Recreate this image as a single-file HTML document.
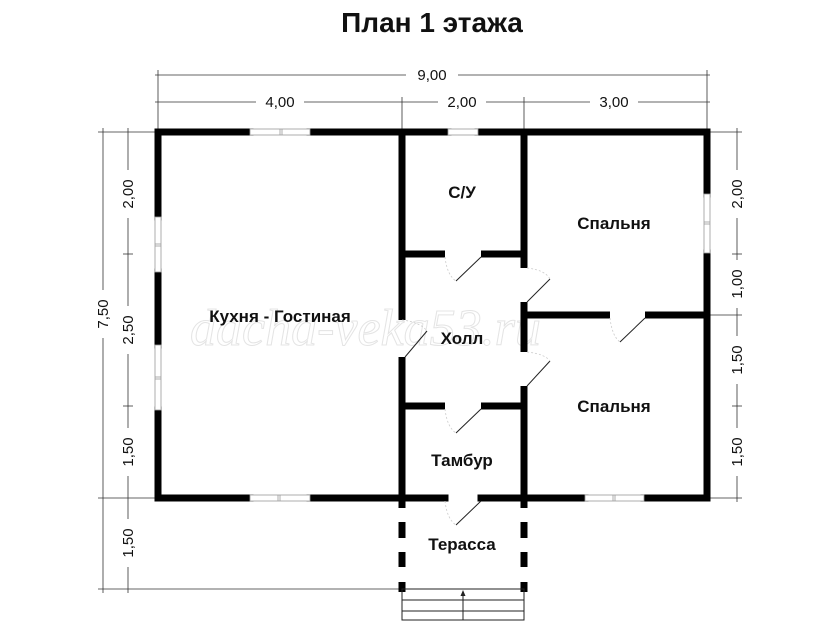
<!DOCTYPE html>
<html><head><meta charset="utf-8"><style>
html,body{margin:0;padding:0;background:#fff;}
svg{display:block;}
text{font-family:"Liberation Sans",sans-serif;fill:#111;}
.lbl{font-size:17px;font-weight:bold;}
.dim{font-size:15px;}
</style></head><body>
<svg width="840" height="630" viewBox="0 0 840 630" xmlns="http://www.w3.org/2000/svg">
<rect width="840" height="630" fill="#fff"/>
<text x="432" y="32" text-anchor="middle" style="font-size:28px;font-weight:bold">План 1 этажа</text>

<!-- dimension lines -->
<g stroke="#333" stroke-width="0.8" fill="none">
<line x1="155" y1="75" x2="710" y2="75"/>
<line x1="155" y1="102" x2="710" y2="102"/>
<line x1="158" y1="70" x2="158" y2="132"/>
<line x1="707" y1="70" x2="707" y2="132"/>
<line x1="402" y1="97" x2="402" y2="132"/>
<line x1="524" y1="97" x2="524" y2="132"/>
<line x1="103" y1="128" x2="103" y2="593"/>
<line x1="128" y1="128" x2="128" y2="593"/>
<line x1="98" y1="132" x2="158" y2="132"/>
<line x1="98" y1="589" x2="402" y2="589"/>
<line x1="98" y1="498" x2="158" y2="498"/>
<line x1="123" y1="254" x2="133" y2="254"/>
<line x1="123" y1="406" x2="133" y2="406"/>
<line x1="737" y1="128" x2="737" y2="502"/>
<line x1="707" y1="132" x2="742" y2="132"/>
<line x1="707" y1="498" x2="742" y2="498"/>
<line x1="732" y1="254" x2="742" y2="254"/>
<line x1="707" y1="315" x2="742" y2="315"/>
<line x1="732" y1="406" x2="742" y2="406"/>
</g>
<g class="dim">
<rect x="406" y="66" width="52" height="16" fill="#fff"/>
<text x="432" y="80" text-anchor="middle" class="dim">9,00</text>
<rect x="256" y="93" width="48" height="16" fill="#fff"/>
<text x="280" y="107" text-anchor="middle" class="dim">4,00</text>
<rect x="438" y="93" width="48" height="16" fill="#fff"/>
<text x="462" y="107" text-anchor="middle" class="dim">2,00</text>
<rect x="590" y="93" width="48" height="16" fill="#fff"/>
<text x="614" y="107" text-anchor="middle" class="dim">3,00</text>
</g>
<g fill="#fff">
<rect x="95" y="290" width="16" height="48"/>
<rect x="120" y="170" width="16" height="48"/>
<rect x="120" y="306" width="16" height="48"/>
<rect x="120" y="428" width="16" height="48"/>
<rect x="120" y="519" width="16" height="48"/>
<rect x="729" y="170" width="16" height="48"/>
<rect x="729" y="260" width="16" height="48"/>
<rect x="729" y="336" width="16" height="48"/>
<rect x="729" y="428" width="16" height="48"/>
</g>
<g class="dim" text-anchor="middle">
<text transform="translate(108 314) rotate(-90)">7,50</text>
<text transform="translate(133 194) rotate(-90)">2,00</text>
<text transform="translate(133 330) rotate(-90)">2,50</text>
<text transform="translate(133 452) rotate(-90)">1,50</text>
<text transform="translate(133 543) rotate(-90)">1,50</text>
<text transform="translate(742 194) rotate(-90)">2,00</text>
<text transform="translate(742 284) rotate(-90)">1,00</text>
<text transform="translate(742 360) rotate(-90)">1,50</text>
<text transform="translate(742 452) rotate(-90)">1,50</text>
</g>

<!-- watermark -->
<text x="190" y="345" style="font-family:'Liberation Serif',serif;font-style:italic;font-size:52px;fill:none;stroke:#e4e4e4;stroke-width:1">dacha-veka53.ru</text>

<!-- walls -->
<g stroke="#000" stroke-width="7" fill="none" stroke-linecap="square">
<line x1="158" y1="132" x2="250" y2="132"/>
<line x1="310" y1="132" x2="448" y2="132"/>
<line x1="478" y1="132" x2="707" y2="132"/>
<line x1="158" y1="132" x2="158" y2="217"/>
<line x1="158" y1="272" x2="158" y2="345"/>
<line x1="158" y1="410" x2="158" y2="498"/>
<line x1="707" y1="132" x2="707" y2="194"/>
<line x1="707" y1="253" x2="707" y2="498"/>
<line x1="158" y1="498" x2="250" y2="498"/>
<line x1="310" y1="498" x2="445" y2="498"/>
<line x1="481" y1="498" x2="585" y2="498"/>
<line x1="644" y1="498" x2="707" y2="498"/>
</g>
<g stroke="#000" stroke-width="7" fill="none">
<line x1="402" y1="132" x2="402" y2="320"/>
<line x1="402" y1="357" x2="402" y2="508"/>
<line x1="402" y1="254" x2="445" y2="254"/>
<line x1="481" y1="254" x2="524" y2="254"/>
<line x1="524" y1="132" x2="524" y2="268"/>
<line x1="524" y1="302" x2="524" y2="352"/>
<line x1="524" y1="386" x2="524" y2="508"/>
<line x1="524" y1="315" x2="610" y2="315"/>
<line x1="645" y1="315" x2="707" y2="315"/>
<line x1="402" y1="406" x2="445" y2="406"/>
<line x1="481" y1="406" x2="524" y2="406"/>
<line x1="402" y1="522" x2="402" y2="538"/>
<line x1="402" y1="552" x2="402" y2="567"/>
<line x1="402" y1="582" x2="402" y2="592"/>
<line x1="524" y1="522" x2="524" y2="538"/>
<line x1="524" y1="552" x2="524" y2="567"/>
<line x1="524" y1="582" x2="524" y2="592"/>
</g>

<!-- windows -->
<g fill="#fff" stroke="#999" stroke-width="0.8">
<rect x="250" y="129" width="60" height="6"/><line x1="280" y1="129" x2="280" y2="135"/><line x1="282" y1="129" x2="282" y2="135"/>
<rect x="448" y="129" width="30" height="6"/>
<rect x="155" y="217" width="6" height="55"/><line x1="155" y1="244" x2="161" y2="244"/><line x1="155" y1="246" x2="161" y2="246"/>
<rect x="155" y="345" width="6" height="65"/><line x1="155" y1="377" x2="161" y2="377"/><line x1="155" y1="379" x2="161" y2="379"/>
<rect x="704" y="194" width="6" height="59"/><line x1="704" y1="222" x2="710" y2="222"/><line x1="704" y1="224" x2="710" y2="224"/>
<rect x="250" y="495" width="60" height="6"/><line x1="278" y1="495" x2="278" y2="501"/><line x1="280" y1="495" x2="280" y2="501"/>
<rect x="585" y="495" width="59" height="6"/><line x1="613" y1="495" x2="613" y2="501"/><line x1="615" y1="495" x2="615" y2="501"/>
</g>

<!-- door leaves -->
<g stroke="#222" stroke-width="1">
<line x1="481" y1="257" x2="456" y2="281"/>
<line x1="550" y1="279" x2="527" y2="302"/>
<line x1="645" y1="318" x2="620" y2="342"/>
<line x1="427" y1="331" x2="405" y2="357"/>
<line x1="550" y1="361" x2="527" y2="386"/>
<line x1="481" y1="409" x2="456" y2="433"/>
<line x1="481" y1="501" x2="456" y2="525"/>
</g>
<g stroke="#ccc" stroke-width="0.8" fill="none" stroke-dasharray="2 2">
<path d="M445 257 Q447 275 456 281"/>
<path d="M527 268 Q545 270 550 279"/>
<path d="M610 318 Q612 336 620 342"/>
<path d="M402 320 Q420 322 427 331"/>
<path d="M527 352 Q545 354 550 361"/>
<path d="M445 409 Q447 427 456 433"/>
<path d="M445 501 Q447 519 456 525"/>
</g>

<!-- steps -->
<g stroke="#222" stroke-width="1" fill="none">
<rect x="402" y="589" width="122" height="31"/>
<line x1="402" y1="600" x2="524" y2="600"/>
<line x1="402" y1="611" x2="524" y2="611"/>
<line x1="463" y1="620" x2="463" y2="594"/>
</g>
<polygon points="463,590 460.5,596 465.5,596" fill="#222"/>

<!-- labels -->
<g class="lbl" text-anchor="middle">
<text x="280" y="322">Кухня - Гостиная</text>
<text x="462" y="198">С/У</text>
<text x="614" y="229">Спальня</text>
<text x="462" y="344">Холл</text>
<text x="614" y="412">Спальня</text>
<text x="462" y="466">Тамбур</text>
<text x="462" y="550">Терасса</text>
</g>
</svg>
</body></html>
